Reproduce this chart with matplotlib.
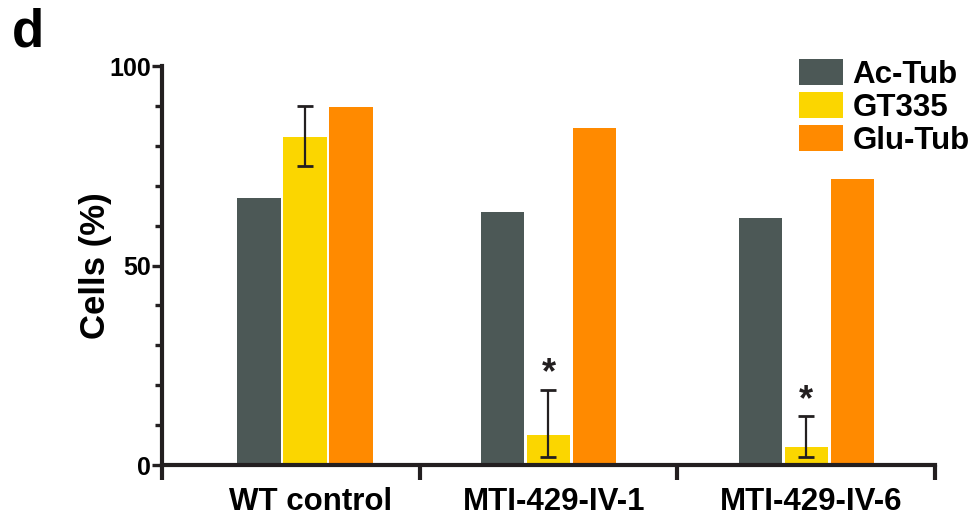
import numpy as np
import matplotlib
matplotlib.use("Agg")
import matplotlib.pyplot as plt
from matplotlib.ticker import MultipleLocator

plt.rcParams['font.family'] = ['Liberation Sans', 'DejaVu Sans']
plt.rcParams['font.weight'] = 'bold'

groups = ['WT control', 'MTI-429-IV-1', 'MTI-429-IV-6']
series = ['Ac-Tub', 'GT335', 'Glu-Tub']
ac_tub = [67.0, 63.5, 62.0]
gt335 = [82.2, 7.6, 4.6]
glu_tub = [89.7, 84.4, 71.8]
# GT335 error bars (low, high)
gt335_low = [75.0, 2.0, 2.0]
gt335_high = [89.9, 18.9, 12.3]
signif = ['', '*', '*']

colors = ['#4c5856', '#fbd600', '#ff8a00']

fig = plt.figure(figsize=(9.77, 5.16), dpi=100)
ax = fig.add_axes([0.1658, 0.0988, 0.7912, 0.7732])

xpos = np.array([0.055, 1.0, 2.0])
w = 0.167
step = 0.1785

vals = [ac_tub, gt335, glu_tub]
for i, (name, v) in enumerate(zip(series, vals)):
    ax.bar(xpos + (i - 1) * step, v, width=w, color=colors[i], label=name, zorder=2)

gt = np.array(gt335)
yerr = np.vstack([gt - np.array(gt335_low), np.array(gt335_high) - gt])
ax.errorbar(xpos, gt, yerr=yerr, fmt='none', ecolor='#231f20', elinewidth=1.6,
            capsize=5.8, capthick=2, zorder=3)

for x, top, s in zip(xpos, gt335_high, signif):
    if s:
        ax.text(x, top - 0.5, s, ha='center', va='bottom', fontsize=26,
                fontweight='bold', color='#231f20')

ax.set_xlim(-0.5, 2.5)
ax.set_ylim(0, 100)
for sp in ['top', 'right']:
    ax.spines[sp].set_visible(False)
for sp in ['left', 'bottom']:
    ax.spines[sp].set_linewidth(3)
    ax.spines[sp].set_color('#231f20')
    ax.spines[sp].set_capstyle('projecting')

ax.set_yticks([0, 50, 100])
ax.yaxis.set_minor_locator(MultipleLocator(10))
ax.tick_params(axis='y', which='major', length=7, width=2.4, labelsize=18,
               pad=1, color='#231f20')
ax.tick_params(axis='y', which='minor', length=5, width=2.4, color='#231f20')

ax.set_xticks([-0.5, 0.5, 1.5, 2.5])
ax.set_xticklabels([])
ax.tick_params(axis='x', which='major', length=11, width=3, color='#231f20')
for x, g in zip(xpos, groups):
    ax.text(x + 0.02, -5.5, g, ha='center', va='top', fontsize=22.5,
            fontweight='bold', transform=ax.transData)

ax.set_ylabel('Cells (%)', fontsize=25, fontweight='bold', labelpad=-2)

fig.text(0.012, 0.985, 'd', fontsize=38, fontweight='bold', va='top', ha='left')

leg = fig.legend(loc='upper left', bbox_to_anchor=(0.818, 0.885), frameon=False,
                 fontsize=22.5, handlelength=1.4, handleheight=0.87,
                 handletextpad=0.3, labelspacing=0.08, borderpad=0,
                 borderaxespad=0)

fig.savefig('out.png', dpi=100)
